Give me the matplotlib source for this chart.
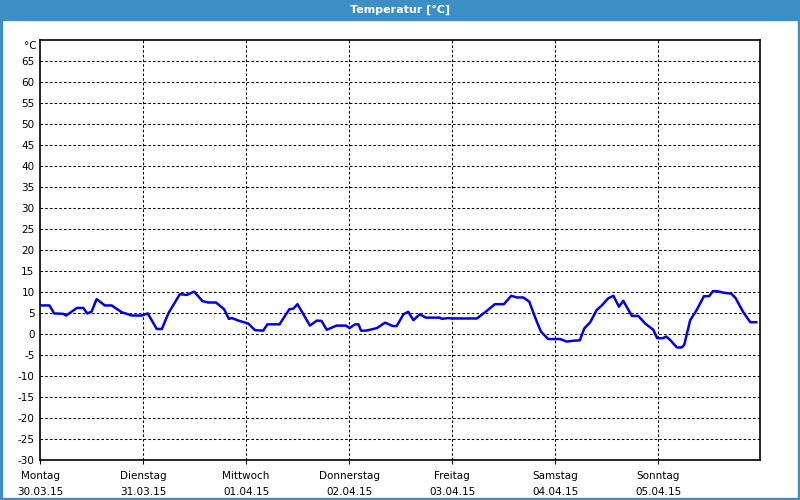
import matplotlib
matplotlib.use("Agg")
import matplotlib.pyplot as plt
from matplotlib.patches import Rectangle

# hours since Monday 00:00 and temperature in °C
hours = [0.2, 2.2, 3.3, 5.4, 6.1, 8.6, 10.1, 11.0, 12.0, 13.2, 15.1, 16.7, 19.0, 21.4, 23.7,
         25.1, 27.2, 28.4, 29.9, 32.6, 34.2, 35.9, 37.9, 39.2, 41.0, 42.9, 44.0, 44.7, 46.2,
         48.5, 50.1, 52.0, 53.0, 55.8, 58.1, 59.0, 60.0, 62.9, 64.5, 65.6, 66.8, 69.1, 71.3,
         72.1, 73.4, 74.2, 74.8, 76.0, 78.5, 80.4, 82.2, 83.1, 84.7, 85.8, 87.0, 88.5, 89.9,
         93.2, 93.6, 95.1, 95.9, 101.8, 104.1, 106.0, 108.1, 109.8, 111.1, 112.6, 114.0,
         115.3, 116.7, 118.4, 121.2, 122.7, 124.3, 125.8, 126.8, 128.2, 129.7, 130.9, 132.4,
         133.6, 134.9, 135.9, 137.9, 139.4, 141.0, 142.9, 143.8, 145.1, 145.9, 146.8, 148.4,
         149.5, 150.1, 151.5, 153.0, 154.7, 155.9, 156.8, 157.7, 159.5, 161.1, 162.1, 163.8,
         165.5, 166.9]
temps = [6.8, 6.8, 4.9, 4.8, 4.4, 6.2, 6.2, 4.9, 5.3, 8.3, 6.8, 6.8, 5.2, 4.4, 4.4,
         4.9, 1.2, 1.2, 4.9, 9.5, 9.3, 10.1, 7.8, 7.5, 7.5, 5.9, 3.6, 3.8, 3.2,
         2.5, 0.9, 0.8, 2.3, 2.3, 5.9, 6.0, 7.1, 2.0, 3.2, 3.1, 1.0, 2.0, 2.0,
         1.4, 2.3, 2.3, 0.8, 0.8, 1.4, 2.7, 1.9, 1.9, 4.7, 5.3, 3.3, 4.7, 3.9,
         3.9, 3.6, 3.8, 3.7, 3.7, 5.5, 7.1, 7.1, 9.1, 8.7, 8.7, 7.7,
         4.1, 0.6, -1.2, -1.2, -1.8, -1.6, -1.5, 1.3, 2.8, 5.7, 6.8, 8.5,
         9.1, 6.5, 7.9, 4.3, 4.3, 2.5, 1.0, -1.0, -1.0, -0.6, -1.4, -3.2,
         -3.2, -2.6, 3.3, 5.7, 9.0, 9.0, 10.2, 10.2, 9.8, 9.6, 8.5, 5.3,
         2.8, 2.8]

days = ["Montag", "Dienstag", "Mittwoch", "Donnerstag", "Freitag", "Samstag", "Sonntag"]
dates = ["30.03.15", "31.03.15", "01.04.15", "02.04.15", "03.04.15", "04.04.15", "05.04.15"]
yticks = list(range(-30, 70, 5))

plt.rcParams['font.family'] = 'DejaVu Sans'
fig = plt.figure(figsize=(8, 5), dpi=100)
fig.patch.set_facecolor('white')

frame = '#3b8fc4'
# title bar and window frame
fig.patches.append(Rectangle((0, 0.96), 1, 0.04, transform=fig.transFigure, color=frame, zorder=0))
fig.patches.append(Rectangle((0, 0), 0.002, 1, transform=fig.transFigure, color=frame, zorder=0))
fig.patches.append(Rectangle((0.998, 0), 0.002, 1, transform=fig.transFigure, color=frame, zorder=0))
fig.patches.append(Rectangle((0, 0), 1, 0.004, transform=fig.transFigure, color=frame, zorder=0))
fig.text(0.5, 0.98, "Temperatur [°C]", color='white', fontsize=8, fontweight='bold',
         ha='center', va='center')

ax = fig.add_axes([0.05, 0.08, 0.9, 0.84])
x = [h / 24 for h in hours]
ax.plot(x, temps, color='#0000e8', linewidth=1.8, solid_joinstyle='round', zorder=3)

ax.set_xlim(0, 6.99)
ax.set_ylim(-30, 70)
ax.set_yticks(yticks)
ax.set_yticklabels([str(v) for v in yticks], fontsize=7.5)
ax.set_xticks(range(7))
ax.set_xticklabels([d + "\n" + t for d, t in zip(days, dates)], fontsize=7.5, linespacing=1.7)
ax.tick_params(axis='y', length=0, pad=4)
ax.tick_params(axis='x', length=3, pad=5, width=0.8)

for v in yticks[1:]:
    ax.axhline(v, color='black', linewidth=0.75, dashes=(2.5, 2), zorder=1)
for d in range(1, 7):
    ax.axvline(d, color='black', linewidth=0.75, dashes=(2.5, 2), zorder=1)

for s in ax.spines.values():
    s.set_linewidth(1.2)
    s.set_color('black')

ax.text(-0.005, 0.985, "°C", transform=ax.transAxes, ha='right', va='center', fontsize=7.5)

fig.savefig("out.png", dpi=100)
